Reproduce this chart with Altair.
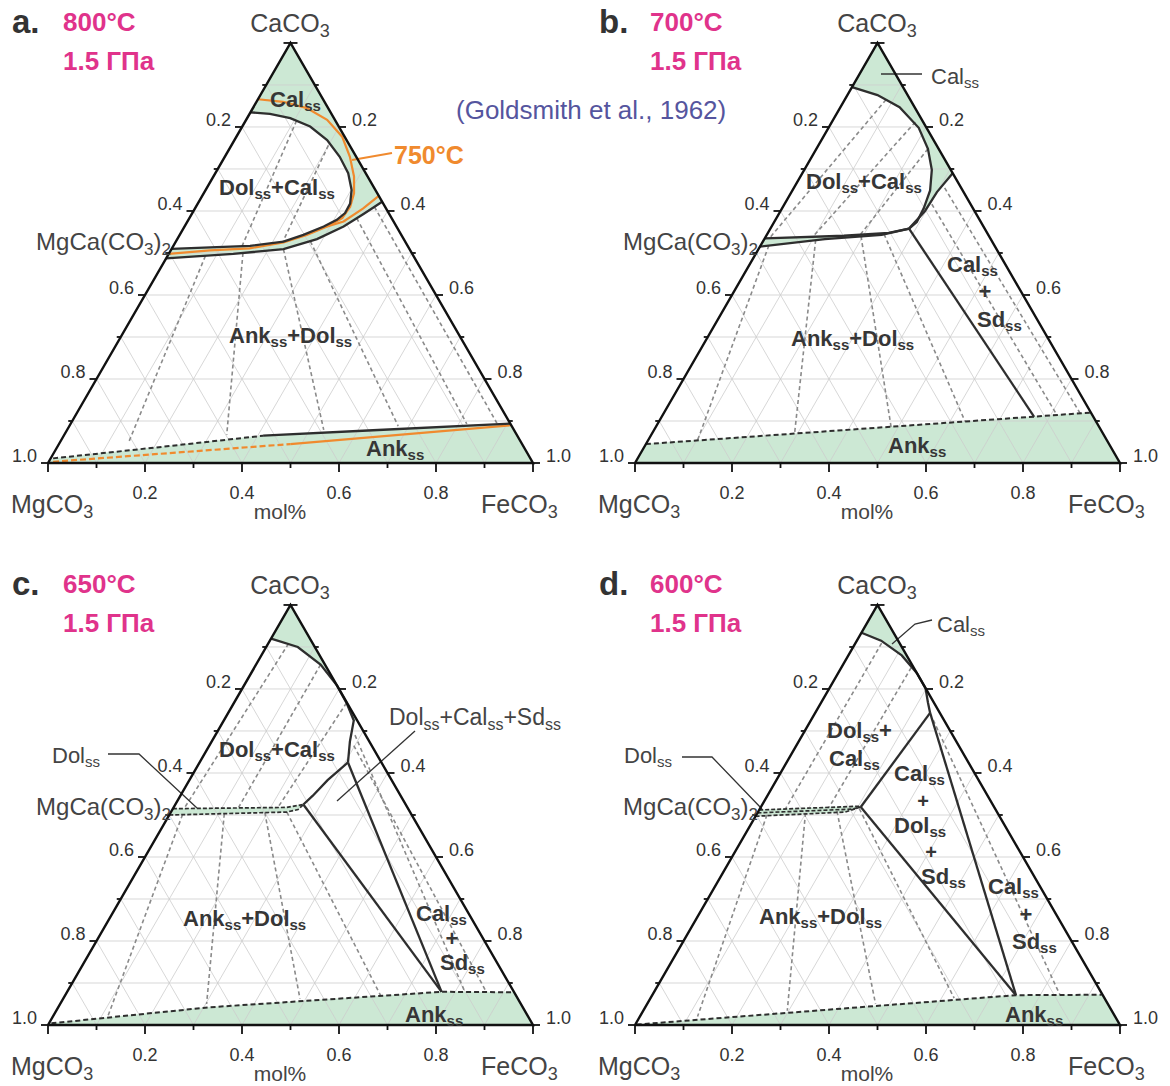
import re
import math
import altair as alt
import pandas as pd

# ----------------------------------------------------------------------------
# DATA  -- compositions are (FeCO3, CaCO3) mole fractions; MgCO3 = 1 - Fe - Ca
# ----------------------------------------------------------------------------
PANELS = ["a", "b", "c", "d"]
PANEL_LETTERS = {"a": "a.", "b": "b.", "c": "c.", "d": "d."}
TEMPERATURES = {"a": "800°C", "b": "700°C", "c": "650°C", "d": "600°C"}
PRESSURE = "1.5 ГПа"
VERTEX_LABELS = ["CaCO_{3}", "MgCO_{3}", "FeCO_{3}"]
DOLOMITE_LABEL = "MgCa(CO_{3})_{2}"
UNIT_LABEL = "mol%"
REFERENCE_LABEL = "(Goldsmith et al., 1962)"
ISOTHERM_LABEL = "750°C"

GRID_STEPS = [0.1, 0.2, 0.3, 0.4, 0.5, 0.6, 0.7, 0.8, 0.9]
TICK_VALUES = [0.0, 0.1, 0.2, 0.3, 0.4, 0.5, 0.6, 0.7, 0.8, 0.9, 1.0]
SIDE_TICK_LABELS = ["0.2", "0.4", "0.6", "0.8", "1.0"]
BOTTOM_TICK_LABELS = ["0.2", "0.4", "0.6", "0.8"]

# ---- a. 800 °C ----
A_SOLVUS = [(0.0, 0.835), (0.042, 0.831), (0.089, 0.821), (0.140, 0.801), (0.191, 0.769),
            (0.237, 0.729), (0.274, 0.690), (0.301, 0.650), (0.314, 0.618), (0.315, 0.595),
            (0.306, 0.579), (0.287, 0.563), (0.255, 0.543), (0.222, 0.527), (0.158, 0.517),
            (0.091, 0.514), (0.0, 0.510)]
A_DOL_LOWER = [(0.378, 0.622), (0.354, 0.593), (0.328, 0.563), (0.288, 0.533), (0.231, 0.509),
               (0.133, 0.498), (0.0, 0.487)]
A_ANK_DASHED = [(0.005, 0.011), (0.205, 0.037), (0.411, 0.065)]
A_ANK_SOLID = [(0.411, 0.065), (0.631, 0.078), (0.906, 0.094)]
A750_SOLVUS = [(0.0, 0.866), (0.055, 0.860), (0.111, 0.845), (0.167, 0.817), (0.218, 0.777),
               (0.258, 0.729), (0.290, 0.682), (0.310, 0.642), (0.318, 0.610), (0.315, 0.583),
               (0.294, 0.563), (0.262, 0.543), (0.223, 0.525), (0.160, 0.511), (0.081, 0.506),
               (0.0, 0.498)]
A750_BRANCH = [(0.364, 0.636), (0.347, 0.606), (0.322, 0.575), (0.294, 0.563)]
A750_ANK_DASHED = [(0.009, 0.003), (0.477, 0.045)]
A750_ANK_SOLID = [(0.477, 0.045), (0.910, 0.090)]
A_TIES = [[(0.105, 0.815), (0.142, 0.516)], [(0.200, 0.756), (0.221, 0.525)],
          [(0.078, 0.493), (0.142, 0.047)], [(0.152, 0.500), (0.335, 0.067)],
          [(0.231, 0.509), (0.529, 0.079)], [(0.277, 0.528), (0.678, 0.088)],
          [(0.345, 0.583), (0.817, 0.093)], [(0.368, 0.610), (0.878, 0.095)]]

# ---- b. 700 °C ----
B_SOLVUS = [(0.0, 0.895), (0.062, 0.876), (0.122, 0.847), (0.186, 0.798), (0.230, 0.748),
            (0.263, 0.698), (0.284, 0.649), (0.292, 0.607), (0.294, 0.574), (0.286, 0.558)]
B_DOL_UPPER = [(0.286, 0.558), (0.249, 0.548), (0.160, 0.541), (0.0, 0.535)]
B_OUTER = [(0.310, 0.690), (0.300, 0.645), (0.298, 0.600), (0.286, 0.558)]
B_DOL_LOWER = [(0.286, 0.558), (0.237, 0.543), (0.125, 0.533), (0.0, 0.515)]
B_CAL_SD = [(0.286, 0.558), (0.768, 0.110)]
B_ANK = [(0.0, 0.045), (0.880, 0.120)]
B_TIES = [[(0.085, 0.865), (0.010, 0.537)], [(0.172, 0.812), (0.098, 0.541)],
          [(0.230, 0.748), (0.193, 0.545)], [(0.017, 0.518), (0.102, 0.054)],
          [(0.107, 0.531), (0.294, 0.070)], [(0.196, 0.540), (0.485, 0.086)],
          [(0.241, 0.545), (0.631, 0.099)], [(0.304, 0.616), (0.813, 0.114)],
          [(0.311, 0.655), (0.859, 0.118)]]

# ---- c. 650 °C ----
C_SOLVUS = [(0.0, 0.920), (0.065, 0.900), (0.133, 0.858), (0.192, 0.808), (0.232, 0.767),
            (0.268, 0.725), (0.285, 0.675), (0.306, 0.625)]
C_EDGE_POINT = (0.275, 0.725)
C_CAL_DOL = [(0.306, 0.625), (0.285, 0.583), (0.273, 0.546), (0.264, 0.525)]
C_DOL_SD = [(0.264, 0.525), (0.772, 0.079)]
C_CAL_SD = [(0.306, 0.625), (0.772, 0.079)]
C_DOL_UPPER = [(0.0, 0.515), (0.233, 0.518), (0.264, 0.525)]
C_DOL_LOWER = [(0.0, 0.500), (0.239, 0.507), (0.259, 0.513), (0.264, 0.525)]
C_ANK = [(0.005, 0.004), (0.310, 0.042), (0.772, 0.079), (0.922, 0.078)]
C_TIES = [[(0.042, 0.908), (0.023, 0.517)], [(0.133, 0.858), (0.134, 0.518)],
          [(0.232, 0.767), (0.215, 0.518)], [(0.027, 0.501), (0.113, 0.021)],
          [(0.112, 0.503), (0.302, 0.050)], [(0.194, 0.506), (0.488, 0.063)],
          [(0.239, 0.507), (0.650, 0.071)], [(0.288, 0.690), (0.820, 0.079)],
          [(0.298, 0.665), (0.865, 0.078)]]

# ---- d. 600 °C ----
D_SOLVUS = [(0.0, 0.934), (0.050, 0.915), (0.110, 0.880), (0.162, 0.838), (0.198, 0.802),
            (0.220, 0.768), (0.237, 0.743)]
D_CAL_DOL = [(0.237, 0.743), (0.206, 0.519)]
D_DOL_SD = [(0.206, 0.519), (0.750, 0.071)]
D_CAL_SD = [(0.237, 0.743), (0.750, 0.071)]
D_DOL_LINES = [[(0.0, 0.512), (0.206, 0.521)],
               [(0.0, 0.505), (0.190, 0.514), (0.206, 0.519)],
               [(0.0, 0.497), (0.180, 0.507), (0.206, 0.519)]]
D_ANK = [(0.003, 0.001), (0.300, 0.029), (0.750, 0.071), (0.926, 0.072)]
D_TIES = [[(0.054, 0.909), (0.053, 0.516)], [(0.144, 0.851), (0.141, 0.518)],
          [(0.022, 0.500), (0.119, 0.020)], [(0.099, 0.505), (0.297, 0.034)],
          [(0.162, 0.509), (0.471, 0.050)], [(0.205, 0.515), (0.626, 0.064)],
          [(0.252, 0.726), (0.840, 0.072)]]

# ----------------------------------------------------------------------------
# LAYOUT / STYLE
# ----------------------------------------------------------------------------
W, H = 1170, 1086
SIDE = 485.0
TRI_H = SIDE * math.sqrt(3) / 2
ORIGIN = {"a": (48, 463), "b": (635, 463), "c": (48, 1025), "d": (635, 1025)}
OFFSET = {"a": (0, 0), "b": (587, 0), "c": (0, 562), "d": (587, 562)}

FONT = "Liberation Sans"
GREEN = "#cce8d4"
DARK_LINE = "#2e2e2e"
ORANGE = "#f08a2e"
MAGENTA = "#e0338b"
BLUE = "#55559e"
TXT_DARK = "#363636"
TXT_GRAY = "#444444"

XS = alt.Scale(domain=[0, W], nice=False, zero=False)
YS = alt.Scale(domain=[0, H], nice=False, zero=False, reverse=True)


def px(panel, fe, ca):
    ox, oy = ORIGIN[panel]
    return ox + SIDE * (fe + ca / 2.0), oy - TRI_H * ca


lines = {}
_counter = [0]


def add_path(style, pts):
    _counter[0] += 1
    gid = "p%d" % _counter[0]
    lst = lines.setdefault(style, [])
    for i, (x, y) in enumerate(pts):
        lst.append({"x": x, "y": y, "id": gid, "ord": i})


def add_tern(style, panel, comps):
    add_path(style, [px(panel, fe, ca) for fe, ca in comps])


def add_rel(style, panel, rel_pts):
    dx, dy = OFFSET[panel]
    add_path(style, [(x + dx, y + dy) for x, y in rel_pts])


# ---------------- text helpers ----------------
REG_W = {"C": 722, "a": 556, "l": 222, "s": 500, "D": 722, "o": 556, "+": 584, "S": 667,
         "d": 556, "M": 833, "g": 556, "(": 333, ")": 333, "O": 778, "F": 611, "e": 556,
         "m": 833, "%": 889, ".": 278, " ": 278, "A": 667, "n": 556, "k": 500}
BOLD_W = {"C": 722, "a": 556, "l": 278, "s": 556, "D": 722, "o": 611, "+": 584, "S": 667,
          "d": 611, "A": 722, "n": 611, "k": 556, ".": 278, " ": 278, "°": 400}


def tw(s, size, bold):
    t = BOLD_W if bold else REG_W
    return sum(t.get(c, 556) for c in s) * size / 1000.0


def split_runs(markup):
    out = []
    for part in re.split(r"(_\{[^}]*\})", markup):
        if not part:
            continue
        if part.startswith("_{"):
            out.append((part[2:-1], True))
        else:
            out.append((part, False))
    return out


texts = []


def place(panel, markup, x, y, size, bold=False, color=TXT_DARK, anchor="left"):
    dx, dy = OFFSET[panel]
    x += dx
    y += dy
    sub = round(size * 0.7)
    parts = split_runs(markup)
    widths = [tw(t, sub if s else size, bold) for t, s in parts]
    total = sum(widths)
    if anchor == "center":
        x -= total / 2.0
    elif anchor == "right":
        x -= total
    for (t, s), w in zip(parts, widths):
        texts.append({"x": x, "y": y + (size * 0.2 if s else 0), "text": t,
                      "size": sub if s else size, "color": color, "bold": bold})
        x += w


# ---------------- common frame per panel ----------------
for p in PANELS:
    # grid
    for g in GRID_STEPS:
        add_tern("grid", p, [(0.0, g), (1.0 - g, g)])
        add_tern("grid", p, [(g, 0.0), (g, 1.0 - g)])
        add_tern("grid", p, [(1.0 - g, 0.0), (0.0, 1.0 - g)])
    # ticks
    for i, v in enumerate(TICK_VALUES):
        major = (i % 2 == 0)
        ls = 7 if major else 4
        lb = 9 if major else 5
        x, y = px(p, 0.0, v)
        add_path("frame_thin", [(x, y), (x - ls, y)])
        x, y = px(p, 1.0 - v, v)
        add_path("frame_thin", [(x, y), (x + ls, y)])
        x, y = px(p, v, 0.0)
        add_path("frame_thin", [(x, y), (x, y + lb)])
    # edges
    add_tern("edge", p, [(0, 0), (1, 0), (0, 1), (0, 0)])
    # tick labels
    ox, oy = OFFSET[p]
    for lab in SIDE_TICK_LABELS:
        v = float(lab)
        x, y = px(p, 0.0, 1.0 - v)
        place(p, lab, x - ox - 11, y - oy - 1, 18, color="#333333", anchor="right")
        x, y = px(p, v, 1.0 - v)
        place(p, lab, x - ox + 13, y - oy - 1, 18, color="#333333")
    for lab in BOTTOM_TICK_LABELS:
        x, y = px(p, float(lab), 0.0)
        place(p, lab, x - ox, 499, 18, color="#333333", anchor="center")
    # vertex & header labels
    place(p, PANEL_LETTERS[p], 12, 33, 33, bold=True, color="#333333")
    place(p, TEMPERATURES[p], 63, 31, 26, bold=True, color=MAGENTA)
    place(p, PRESSURE, 63, 70, 26, bold=True, color=MAGENTA)
    place(p, VERTEX_LABELS[0], 290, 32, 25, color=TXT_GRAY, anchor="center")
    place(p, VERTEX_LABELS[1], 11, 513, 25, color=TXT_GRAY)
    place(p, VERTEX_LABELS[2], 481, 513, 25, color=TXT_GRAY)
    place(p, UNIT_LABEL, 280, 519, 21, color=TXT_GRAY, anchor="center")
    place(p, DOLOMITE_LABEL, 171, 250 if p in ("a", "b") else 253, 24, color=TXT_GRAY,
          anchor="right")

# ---------------- panel a ----------------
add_tern("green", "a", [(0.0, 1.0)] + A_DOL_LOWER + A_SOLVUS[::-1])
add_tern("green", "a", [(0.0, 0.0)] + A_ANK_DASHED + A_ANK_SOLID[1:] + [(1.0, 0.0)])
add_tern("orange", "a", A750_SOLVUS)
add_tern("orange", "a", A750_BRANCH)
add_tern("orange", "a", A750_ANK_SOLID)
add_tern("orange_dash", "a", A750_ANK_DASHED)
for t in A_TIES:
    add_tern("tie", "a", t)
add_tern("solid", "a", A_SOLVUS)
add_tern("solid", "a", A_DOL_LOWER)
add_tern("solid", "a", A_ANK_SOLID)
add_tern("dashed", "a", A_ANK_DASHED)
add_rel("orange_leader", "a", [(352, 160), (392, 153)])
place("a", "Cal_{ss}", 270, 107, 22, bold=True)
place("a", "Dol_{ss}+Cal_{ss}", 219, 195, 22, bold=True)
place("a", "Ank_{ss}+Dol_{ss}", 229, 343, 22, bold=True)
place("a", "Ank_{ss}", 366, 456, 22, bold=True)
place("a", ISOTHERM_LABEL, 394, 164, 25, bold=True, color=ORANGE)
place("a", REFERENCE_LABEL, 456, 119, 26, color=BLUE)

# ---------------- panel b ----------------
add_tern("green", "b", [(0.0, 1.0)] + B_OUTER + B_DOL_LOWER[1:] + B_DOL_UPPER[::-1]
         + B_SOLVUS[::-1][1:])
add_tern("green", "b", [(0.0, 0.0)] + B_ANK + [(1.0, 0.0)])
for t in B_TIES:
    add_tern("tie", "b", t)
add_tern("solid", "b", B_SOLVUS + B_DOL_UPPER[1:])
add_tern("solid", "b", B_OUTER + B_DOL_LOWER[1:])
add_tern("solid", "b", B_CAL_SD)
add_tern("dashed", "b", B_ANK)
add_rel("leader", "b", [(294, 74), (335, 74)])
place("b", "Cal_{ss}", 344, 84, 22, color=TXT_GRAY)
place("b", "Dol_{ss}+Cal_{ss}", 219, 189, 22, bold=True)
place("b", "Ank_{ss}+Dol_{ss}", 204, 346, 22, bold=True)
place("b", "Cal_{ss}", 360, 272, 22, bold=True)
place("b", "+", 398, 299, 22, bold=True, anchor="center")
place("b", "Sd_{ss}", 390, 327, 22, bold=True)
place("b", "Ank_{ss}", 301, 453, 22, bold=True)

# ---------------- panel c ----------------
add_tern("green", "c", [(0.0, 1.0), C_EDGE_POINT] + C_SOLVUS[:6][::-1])
add_tern("green", "c", C_DOL_UPPER + C_DOL_LOWER[::-1])
add_tern("green", "c", [(0.0, 0.0)] + C_ANK + [(1.0, 0.0)])
for t in C_TIES:
    add_tern("tie", "c", t)
add_tern("solid", "c", C_SOLVUS)
add_tern("solid", "c", C_CAL_DOL)
add_tern("solid", "c", C_DOL_SD)
add_tern("solid", "c", C_CAL_SD)
add_tern("dashed_fine", "c", C_DOL_UPPER)
add_tern("dashed_fine", "c", C_DOL_LOWER)
add_tern("dashed", "c", C_ANK)
add_rel("leader", "c", [(108, 192), (139, 192), (197, 246)])
add_rel("leader", "c", [(415, 169), (337, 239)])
place("c", "Dol_{ss}", 52, 201, 22, color=TXT_GRAY)
place("c", "Dol_{ss}+Cal_{ss}+Sd_{ss}", 389, 163, 23, color=TXT_GRAY)
place("c", "Dol_{ss}+Cal_{ss}", 219, 195, 22, bold=True)
place("c", "Ank_{ss}+Dol_{ss}", 183, 364, 22, bold=True)
place("c", "Cal_{ss}", 416, 359, 22, bold=True)
place("c", "+", 452, 384, 22, bold=True, anchor="center")
place("c", "Sd_{ss}", 440, 408, 22, bold=True)
place("c", "Ank_{ss}", 405, 460, 22, bold=True)

# ---------------- panel d ----------------
add_tern("green", "d", [(0.0, 1.0)] + D_SOLVUS[:5][::-1])
add_tern("green", "d", D_DOL_LINES[0] + D_DOL_LINES[2][::-1])
add_tern("green", "d", [(0.0, 0.0)] + D_ANK + [(1.0, 0.0)])
for t in D_TIES:
    add_tern("tie", "d", t)
add_tern("solid", "d", D_SOLVUS)
add_tern("solid", "d", D_CAL_DOL)
add_tern("solid", "d", D_DOL_SD)
add_tern("solid", "d", D_CAL_SD)
for ln in D_DOL_LINES:
    add_tern("dashed_fine", "d", ln)
add_tern("dashed", "d", D_ANK)
add_rel("leader", "d", [(305, 82), (328, 62), (345, 58)])
add_rel("leader", "d", [(95, 195), (125, 195), (175, 247)])
place("d", "Cal_{ss}", 350, 70, 22, color=TXT_GRAY)
place("d", "Dol_{ss}", 37, 201, 22, color=TXT_GRAY)
place("d", "Dol_{ss}+", 240, 176, 22, bold=True)
place("d", "Cal_{ss}", 242, 204, 22, bold=True)
place("d", "Cal_{ss}", 307, 219, 22, bold=True)
place("d", "+", 336, 246, 20, bold=True, anchor="center")
place("d", "Dol_{ss}", 307, 271, 22, bold=True)
place("d", "+", 344, 297, 20, bold=True, anchor="center")
place("d", "Sd_{ss}", 334, 322, 22, bold=True)
place("d", "Cal_{ss}", 401, 332, 22, bold=True)
place("d", "+", 439, 360, 22, bold=True, anchor="center")
place("d", "Sd_{ss}", 425, 387, 22, bold=True)
place("d", "Ank_{ss}+Dol_{ss}", 172, 362, 22, bold=True)
place("d", "Ank_{ss}", 418, 460, 22, bold=True)

# ----------------------------------------------------------------------------
# CHART
# ----------------------------------------------------------------------------
def pos():
    return dict(x=alt.X("x:Q", scale=XS, axis=None), y=alt.Y("y:Q", scale=YS, axis=None))


def line_layer(style, **mark):
    df = pd.DataFrame(lines[style])
    return alt.Chart(df).mark_line(**mark).encode(
        **pos(), detail="id:N", order=alt.Order("ord:Q"))


layers = [
    line_layer("green", interpolate="linear-closed", fill=GREEN, stroke=GREEN,
               strokeWidth=0.5, fillOpacity=1),
    line_layer("grid", stroke="#cdcdcd", strokeWidth=0.8),
    line_layer("tie", stroke="#8a8a8a", strokeWidth=1.6, strokeDash=[4, 3]),
    line_layer("orange", stroke=ORANGE, strokeWidth=2.2),
    line_layer("orange_dash", stroke=ORANGE, strokeWidth=2.2, strokeDash=[6, 3]),
    line_layer("solid", stroke=DARK_LINE, strokeWidth=2.3),
    line_layer("dashed", stroke=DARK_LINE, strokeWidth=2.0, strokeDash=[5, 3]),
    line_layer("dashed_fine", stroke=DARK_LINE, strokeWidth=1.7, strokeDash=[4, 2]),
    line_layer("leader", stroke="#333333", strokeWidth=1.3),
    line_layer("orange_leader", stroke=ORANGE, strokeWidth=2.0),
    line_layer("edge", stroke="#111111", strokeWidth=2.4, strokeJoin="miter"),
    line_layer("frame_thin", stroke="#111111", strokeWidth=1.8),
]

tdf = pd.DataFrame(texts)
for bold in (False, True):
    sub = tdf[tdf["bold"] == bold].drop(columns=["bold"])
    layers.append(
        alt.Chart(sub).mark_text(align="left", baseline="alphabetic", font=FONT,
                                 fontWeight="bold" if bold else "normal").encode(
            **pos(), text="text:N",
            size=alt.Size("size:Q", scale=None),
            color=alt.Color("color:N", scale=None)))

chart = alt.layer(*layers).properties(
    width=W, height=H, autosize=alt.AutoSizeParams(type="none"), padding=0,
    background="white",
).configure_view(strokeWidth=0)

chart.save("out.html", embed_options={"renderer": "svg", "actions": False})
